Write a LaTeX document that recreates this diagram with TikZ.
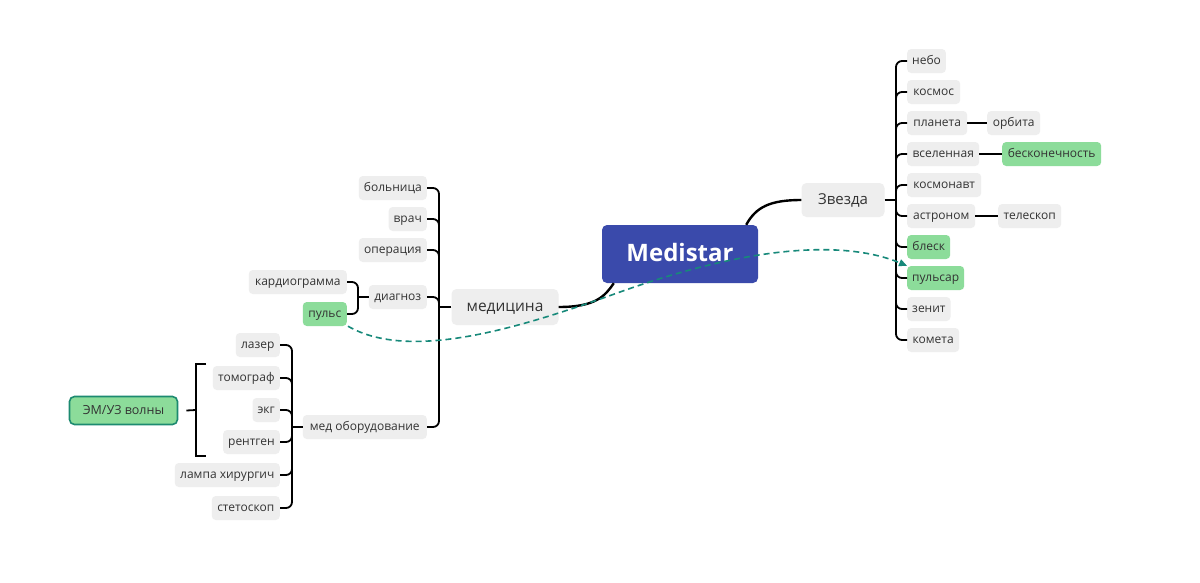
\documentclass[tikz,border=0pt]{standalone}
\usepackage{fontspec}
\setmainfont{Open Sans}
\usetikzlibrary{arrows.meta,calc}
\definecolor{leafgray}{HTML}{EEEEEE}
\definecolor{leafgreen}{HTML}{8CDC9A}
\definecolor{txt}{HTML}{333333}
\definecolor{mainblue}{HTML}{3A4AAB}
\definecolor{teal}{HTML}{17897A}
\definecolor{emborder}{HTML}{1C8A70}
\begin{document}
\begin{tikzpicture}[x=1pt,y=-1pt,
  leaf/.style={fill=leafgray,rounded corners=4pt,text=txt,inner xsep=5pt,inner ysep=0pt,minimum height=24pt,text height=9pt,text depth=2.5pt,font=\fontsize{12}{14}\selectfont},
  gleaf/.style={leaf,fill=leafgreen},
  topic/.style={fill=leafgray,rounded corners=5pt,text=txt,inner sep=0pt,text height=11pt,text depth=3pt,font=\fontsize{15}{18}\selectfont},
  tree/.style={draw=black,line width=1.8pt,rounded corners=6pt},
  main/.style={draw=black,line width=2.4pt},
  rel/.style={draw=teal,line width=1.6pt,dash pattern=on 6pt off 4pt,-{Triangle[length=8pt,width=7pt]}}
]
\useasboundingbox (0,0) rectangle (1200,582);
\fill[white] (0,0) rectangle (1200,582);

% central
\node[fill=mainblue,rounded corners=5pt,text=white,minimum width=156pt,minimum height=58pt,inner sep=0pt,text height=18pt,text depth=4pt,font=\fontsize{24}{28}\bfseries] (medistar) at (680,254) {Medistar};

% main topics
\node[topic,minimum width=83pt,minimum height=34pt] (zvezda) at (843,200) {Звезда};
\node[topic,minimum width=107pt,minimum height=36pt,font=\fontsize{15.5}{18}\selectfont] (medicina) at (505,307) {медицина};

\draw[main] ($(medistar.north east)+(-12,0)$) .. controls (756,207) and (770,200) .. (zvezda.west);
\draw[main] ($(medistar.south west)+(12,0)$) .. controls (605,296) and (596,307) .. (medicina.east);

% right side
\node[leaf,anchor=west,minimum width=38pt] (nebo) at (907,61) {небо};
\node[leaf,anchor=west,minimum width=53pt] (kosmos) at (907,92) {космос};
\node[leaf,anchor=west,minimum width=60pt] (planeta) at (907,123) {планета};
\node[leaf,anchor=west,minimum width=72pt] (vselennaya) at (907,154) {вселенная};
\node[leaf,anchor=west,minimum width=74pt] (kosmonavt) at (907,185) {космонавт};
\node[leaf,anchor=west,minimum width=68pt] (astronom) at (907,216) {астроном};
\node[gleaf,anchor=west,minimum width=43pt] (blesk) at (907,247) {блеск};
\node[gleaf,anchor=west,minimum width=57pt] (pulsar) at (907,278) {пульсар};
\node[leaf,anchor=west,minimum width=42pt] (zenit) at (907,309) {зенит};
\node[leaf,anchor=west,minimum width=52pt] (kometa) at (907,340) {комета};
\node[leaf,anchor=west,minimum width=53pt] (orbita) at (987,123) {орбита};
\node[gleaf,anchor=west,minimum width=99pt] (beskon) at (1002,154) {бесконечность};
\node[leaf,anchor=west,minimum width=63pt] (teleskop) at (998,216) {телескоп};

\coordinate (rj) at (896,200);
\draw[tree] (zvezda.east) -- (rj);
\foreach \n in {nebo,kosmos,planeta,vselennaya,kosmonavt,astronom,blesk,pulsar,zenit,kometa}
  \draw[tree] (rj) |- (\n.west);
\draw[tree] (planeta.east) -- (orbita.west);
\draw[tree] (vselennaya.east) -- (beskon.west);
\draw[tree] (astronom.east) -- (teleskop.west);

% left side
\node[leaf,anchor=east,minimum width=68pt] (bolnica) at (427,188) {больница};
\node[leaf,anchor=east,minimum width=38pt] (vrach) at (427,219) {врач};
\node[leaf,anchor=east,minimum width=68pt] (operaciya) at (427,250) {операция};
\node[leaf,anchor=east,minimum width=58pt] (diagnoz) at (427,297) {диагноз};
\node[leaf,anchor=east,minimum width=124pt] (medob) at (427,427) {мед оборудование};

\coordinate (lj) at (439,307);
\draw[tree] (medicina.west) -- (lj);
\foreach \n in {bolnica,vrach,operaciya,diagnoz,medob}
  \draw[tree] (lj) |- (\n.east);

\node[leaf,anchor=east,minimum width=98pt] (kardio) at (347,282) {кардиограмма};
\node[gleaf,anchor=east,minimum width=44pt] (puls) at (347,314) {пульс};
\coordinate (dj) at (358,297);
\draw[tree] (diagnoz.west) -- (dj);
\foreach \n in {kardio,puls}
  \draw[tree] (dj) |- (\n.east);

\node[leaf,anchor=east,minimum width=44pt] (lazer) at (280,345) {лазер};
\node[leaf,anchor=east,minimum width=67pt] (tomograf) at (280,378) {томограф};
\node[leaf,anchor=east,minimum width=26pt] (ekg) at (280,410) {экг};
\node[leaf,anchor=east,minimum width=56pt] (rentgen) at (280,442) {рентген};
\node[leaf,anchor=east,minimum width=105pt] (lampa) at (280,475) {лампа хирургич};
\node[leaf,anchor=east,minimum width=68pt] (stetoskop) at (280,508) {стетоскоп};
\coordinate (mj) at (292,427);
\draw[tree] (medob.west) -- (mj);
\foreach \n in {lazer,tomograf,ekg,rentgen,lampa,stetoskop}
  \draw[tree] (mj) |- (\n.east);

% summary bracket
\node[fill=leafgreen,draw=emborder,line width=1.6pt,rounded corners=5pt,text=txt,minimum width=108pt,minimum height=28pt,inner sep=0pt,text height=9.5pt,text depth=2.5pt,font=\fontsize{12.5}{14}\selectfont] (emuz) at (123.5,410.5) {ЭМ/УЗ волны};
\draw[black,line width=1.8pt] (206,364) -- (196,364) -- (196,456) -- (206,456);
\draw[black,line width=1.8pt] (196,410) -- ($(emuz.east)+(8,0)$);

% relation
\draw[rel] ($(puls.south east)+(1,0)$) .. controls (410,362) and (520,328) .. (620,292)
  .. controls (760,242) and (850,242) .. (pulsar.north west);
\end{tikzpicture}
\end{document}
